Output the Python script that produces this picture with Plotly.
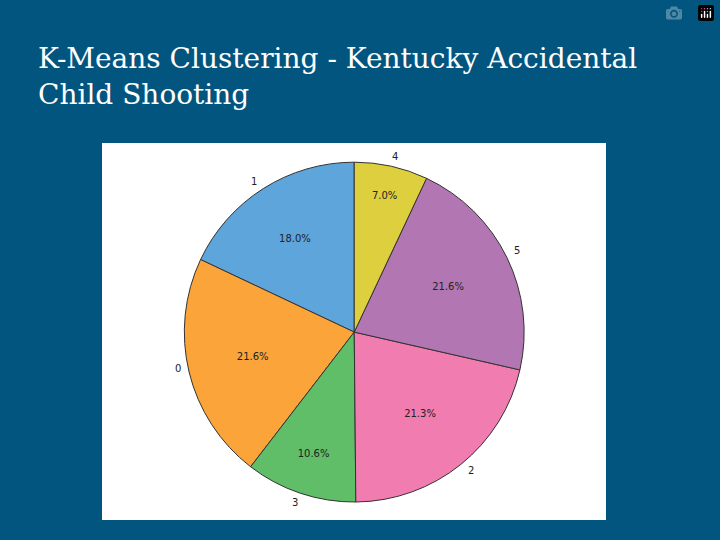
import math
import plotly.graph_objects as go

clusters = ["1", "0", "3", "2", "5", "4"]
shares = [18.0, 21.6, 10.6, 21.3, 21.6, 7.0]
colors = ["#5DA5DA", "#FAA43A", "#60BD68", "#F17CB0", "#B276B2", "#DECF3F"]

cx, cy = 0.492, 0.385
rx, ry = 0.236, 0.315
total = sum(shares)

fig = go.Figure(go.Pie(
    labels=clusters, values=shares, sort=False, direction="counterclockwise",
    rotation=-shares[0] / total * 360.0,
    marker=dict(colors=colors, line=dict(color="#333333", width=1)),
    texttemplate="%{percent:.1%}", textposition="inside", insidetextorientation="horizontal",
    textfont=dict(color="#222222", size=10, family="DejaVu Sans"),
    hoverinfo="label+percent", showlegend=False,
    domain=dict(x=[cx - rx, cx + rx], y=[cy - ry, cy + ry]),
))

# cluster names just outside each slice
annotations = []
start = 90.0
for name, v in zip(clusters, shares):
    mid = math.radians(start + v / total * 180.0)
    start += v / total * 360.0
    annotations.append(dict(
        x=cx + 1.1 * rx * math.cos(mid), y=cy + 1.1 * ry * math.sin(mid),
        xref="paper", yref="paper", text=name, showarrow=False,
        font=dict(size=10, color="#222222", family="DejaVu Sans"),
    ))

annotations.append(dict(
    x=36 / 720, y=1 - 40 / 540, xref="paper", yref="paper", xanchor="left", yanchor="top",
    align="left", showarrow=False,
    text="K-Means Clustering - Kentucky Accidental<br>Child Shooting",
    font=dict(size=28, color="white", family="DejaVu Serif"),
))

fig.update_layout(
    width=720, height=540, margin=dict(l=0, r=0, t=0, b=0),
    paper_bgcolor="#02557E", plot_bgcolor="#02557E",
    annotations=annotations,
    shapes=[dict(type="rect", xref="paper", yref="paper", layer="below",
                 x0=102 / 720, x1=606 / 720, y0=1 - 520 / 540, y1=1 - 143 / 540,
                 fillcolor="white", line=dict(width=0))],
)

fig.write_html("out.html", post_script="document.body.style.margin='0';document.body.style.background='#02557E';")
